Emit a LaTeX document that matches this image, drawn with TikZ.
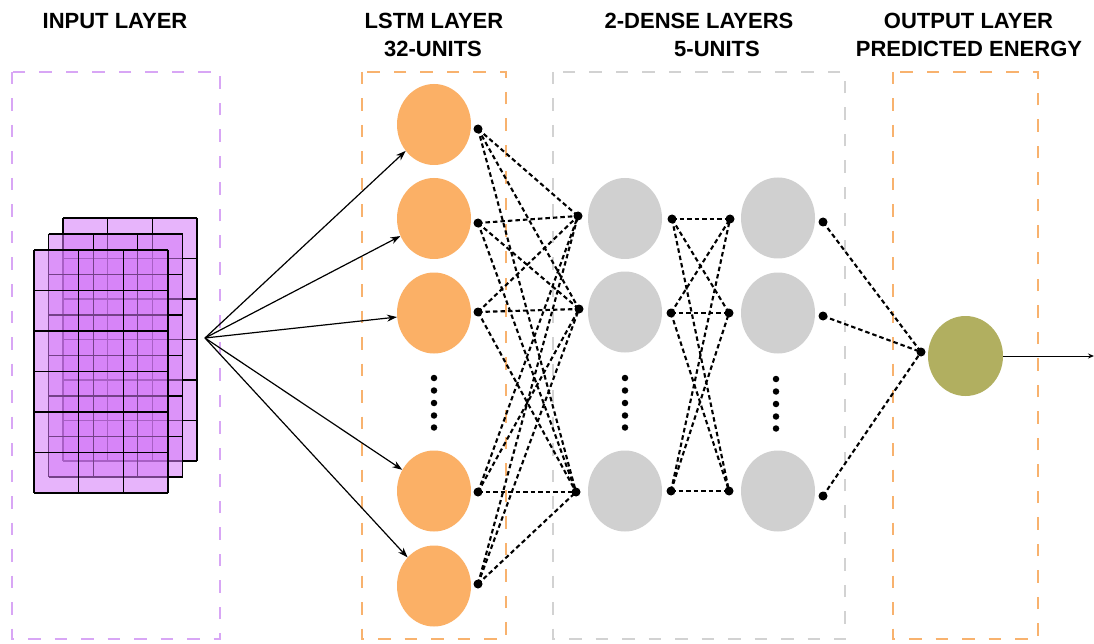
\documentclass[tikz,border=0pt]{standalone}
\usepackage{fontspec}
\setmainfont{Liberation Sans}
\usetikzlibrary{shapes.geometric,arrows.meta}
\definecolor{purp}{RGB}{216,166,245}
\definecolor{orng}{RGB}{248,178,110}
\definecolor{gryd}{RGB}{210,210,210}
\definecolor{lstmfill}{RGB}{251,176,102}
\definecolor{densefill}{RGB}{208,208,208}
\definecolor{outfill}{RGB}{177,175,96}
\definecolor{gridfill}{RGB}{212,120,248}
\tikzset{
  layerbox/.style={dash pattern=on 12.5pt off 14pt, line width=2pt},
  unit/.style={ellipse, minimum width=74pt, minimum height=81pt, inner sep=0pt, draw=none},
  pin/.style={circle, fill=black, inner sep=0pt, minimum size=9pt},
  vdot/.style={circle, fill=black, inner sep=0pt, minimum size=6.5pt},
  link/.style={black, line width=2.1pt, dash pattern=on 4.5pt off 3pt},
  feed/.style={black, line width=1.2pt, -{Stealth[length=10pt,width=7pt]}},
  title/.style={font=\bfseries\fontsize{22}{22}\selectfont, anchor=base, inner sep=0pt}
}
\begin{document}
\begin{tikzpicture}[x=1pt,y=-1pt]
\useasboundingbox (0,0) rectangle (1094,644);
\fill[white] (0,0) rectangle (1094,644);

% titles
\node[title] (t1) at (115,28.5) {INPUT LAYER};
\node[title] (t2a) at (434,28.5) {LSTM LAYER};
\node[title] (t2b) at (433,56.5) {32-UNITS};
\node[title] (t3a) at (699,28.5) {2-DENSE LAYERS};
\node[title] (t3b) at (717,56.5) {5-UNITS};
\node[title] (t4a) at (968.5,28.5) {OUTPUT LAYER};
\node[title] (t4b) at (969,56.5) {PREDICTED ENERGY};

% layer boxes
\draw[layerbox, purp] (12,72) rectangle (220,639);
\draw[layerbox, orng] (362,72) rectangle (506,639);
\draw[layerbox, gryd] (553,72) rectangle (845,639);
\draw[layerbox, orng] (893,72) rectangle (1038,639);

% input stack
\foreach \dx/\dy in {29/-32,14.5/-16,0/0}{
  \begin{scope}[shift={(\dx,\dy)}]
    \fill[gridfill, opacity=0.55] (34,250) rectangle (168,493);
    \foreach \i in {0,1,2,3} \draw[line width=1.3pt] ({34+44.667*\i},250) -- ({34+44.667*\i},493);
    \foreach \j in {0,...,6} \draw[line width=1.3pt] (34,{250+40.5*\j}) -- (168,{250+40.5*\j});
  \end{scope}
}
\coordinate (src) at (205,338);

% units
\node[unit, fill=lstmfill] (L1) at (434,124.5) {};
\node[unit, fill=lstmfill] (L2) at (434,218.5) {};
\node[unit, fill=lstmfill] (L3) at (434,313) {};
\node[unit, fill=lstmfill] (L4) at (434,491) {};
\node[unit, fill=lstmfill] (L5) at (434,586) {};
\node[unit, fill=densefill] (A1) at (625,218.5) {};
\node[unit, fill=densefill] (A2) at (625,312) {};
\node[unit, fill=densefill] (A3) at (625,491) {};
\node[unit, fill=densefill] (B1) at (778,218) {};
\node[unit, fill=densefill] (B2) at (778,313) {};
\node[unit, fill=densefill] (B3) at (778,491) {};
\node[unit, fill=outfill, minimum width=75pt, minimum height=80pt] (Out) at (965.5,356) {};

% vertical ellipsis dots
\foreach \y [count=\k] in {378,390.5,403,415.5,427.5}{
  \node[vdot] (lv\k) at (434,\y) {};
  \node[vdot] (av\k) at (625,\y) {};
  \node[vdot] (bv\k) at (776,\y+1) {};
}

% pins
\node[pin] (lp1) at (478,129) {};
\node[pin] (lp2) at (478,223) {};
\node[pin] (lp3) at (478,312) {};
\node[pin] (lp4) at (478,492) {};
\node[pin] (lp5) at (478,584) {};
\node[pin] (ap1) at (578,216) {};
\node[pin] (ap2) at (579,309) {};
\node[pin] (ap3) at (576,492) {};
\node[pin] (aq1) at (672,219) {};
\node[pin] (aq2) at (671,313) {};
\node[pin] (aq3) at (671,491) {};
\node[pin] (bp1) at (730,219) {};
\node[pin] (bp2) at (729,313) {};
\node[pin] (bp3) at (729,491) {};
\node[pin] (bq1) at (823,222) {};
\node[pin] (bq2) at (823,316) {};
\node[pin] (bq3) at (823,496) {};
\node[pin] (op) at (921,352) {};

% dashed links
\foreach \i in {1,...,5} \foreach \j in {1,2,3} \draw[link] (lp\i.center) -- (ap\j.center);
\foreach \i in {1,2,3} \foreach \j in {1,2,3} \draw[link] (aq\i.center) -- (bp\j.center);
\foreach \i in {1,2,3} \draw[link] (bq\i.center) -- (op.center);

% feed arrows
\foreach \i in {1,...,5} \draw[feed] (src) -- (L\i);
\coordinate (oend) at (1094,356);
\draw[black, line width=1pt, -{Stealth[length=6pt,width=5pt]}] (Out) -- (oend);
\end{tikzpicture}
\end{document}
